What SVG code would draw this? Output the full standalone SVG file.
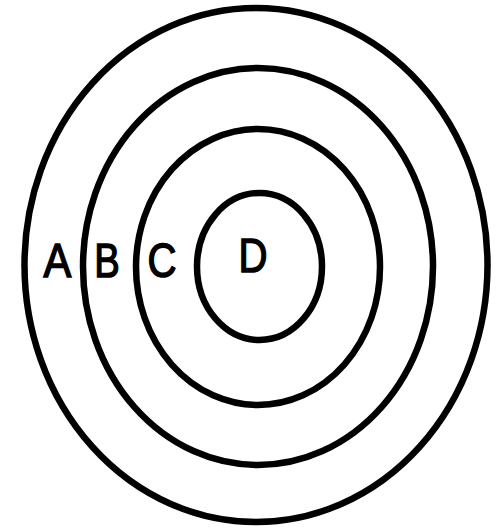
<svg xmlns="http://www.w3.org/2000/svg" width="498" height="530" viewBox="0 0 498 530">
<style>
.ring{fill:none;stroke:#000;stroke-width:6.5}
.lbl{font-family:"Liberation Sans",Arial,sans-serif;font-size:49px;fill:#000;stroke:#000;stroke-width:1.5;text-anchor:middle}
</style>
<rect width="498" height="530" fill="#fff"/>
<g id="A"><ellipse class="ring" cx="256" cy="265" rx="231.5" ry="257"/><text class="lbl" transform="translate(57.5,277) scale(0.85,1)">A</text></g>
<g id="B"><ellipse class="ring" cx="258" cy="266.5" rx="175" ry="198.5"/><text class="lbl" transform="translate(107,277) scale(0.78,1)">B</text></g>
<g id="C"><ellipse class="ring" cx="258" cy="267" rx="122" ry="138"/><text class="lbl" transform="translate(162,277) scale(0.82,1)">C</text></g>
<g id="D"><ellipse class="ring" cx="259.5" cy="266.5" rx="62.5" ry="73.5"/><text class="lbl" transform="translate(253,272) scale(0.82,1)">D</text></g>
<g id="connectors"/>
</svg>
